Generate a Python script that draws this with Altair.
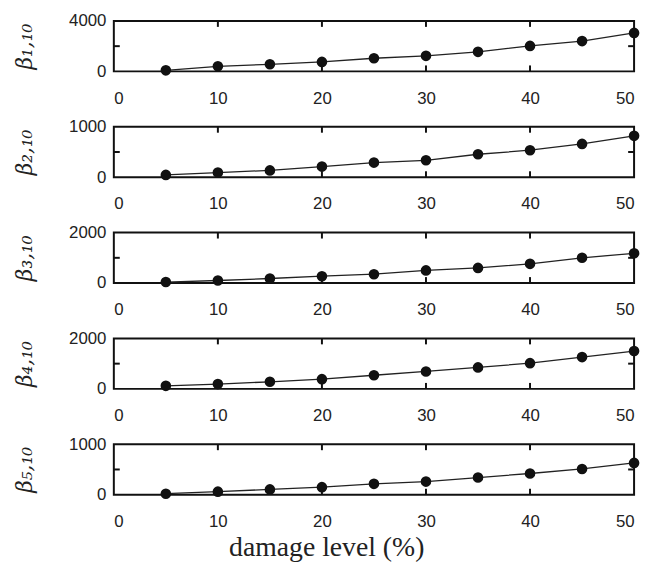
import altair as alt
import pandas as pd

damage = [5, 10, 15, 20, 25, 30, 35, 40, 45, 50]
beta1 = [80, 400, 560, 750, 1040, 1230, 1550, 2020, 2400, 3050]
beta2 = [46, 92, 135, 210, 290, 335, 455, 535, 660, 820]
beta3 = [40, 100, 180, 270, 350, 500, 600, 760, 1000, 1180]
beta4 = [120, 190, 280, 385, 540, 690, 850, 1020, 1260, 1500]
beta5 = [20, 60, 105, 150, 215, 260, 340, 420, 510, 630]
series = [beta1, beta2, beta3, beta4, beta5]
titles = ["β₁,₁₀", "β₂,₁₀", "β₃,₁₀", "β₄,₁₀", "β₅,₁₀"]
ymax = [4000, 1000, 2000, 2000, 1000]
yticks = [[0, 2000, 4000], [0, 500, 1000], [0, 1000, 2000], [0, 1000, 2000], [0, 500, 1000]]
xticks = [0, 10, 20, 30, 40, 50]
inner_xticks = [10, 20, 30, 40]

W = 526
H = 51
TICK = 6

panels = []
for i, vals in enumerate(series):
    df = pd.DataFrame({"damage": damage, "beta": vals})
    xs = alt.X("damage:Q", scale=alt.Scale(domain=[0, 50], nice=False),
               axis=alt.Axis(values=xticks, ticks=False, domain=False, grid=False,
                             labelPadding=19, labelFontSize=17, labelFont="Liberation Sans",
                             labelColor="#222", title=None, format="d"))
    ys = alt.Y("beta:Q", scale=alt.Scale(domain=[0, ymax[i]], nice=False),
               axis=alt.Axis(values=yticks[i], ticks=False, domain=False, grid=False,
                             labelPadding=8, labelFontSize=17, labelFont="Liberation Sans",
                             labelColor="#222", format="d",
                             title=titles[i], titleFont="DejaVu Serif",
                             titleFontStyle="italic", titleFontWeight="normal",
                             titleFontSize=22, titleColor="#222", titlePadding=32))
    base = alt.Chart(df)
    line = base.mark_line(color="#222", strokeWidth=1.3).encode(x=xs, y=ys)
    pts = base.mark_point(filled=True, color="#111", size=115, opacity=1).encode(
        x="damage:Q", y="beta:Q")

    xt = pd.DataFrame({"t": inner_xticks})
    xt_bot = alt.Chart(xt).mark_rule(color="#111", strokeWidth=2).encode(
        x="t:Q", y=alt.value(H), y2=alt.value(H - TICK))
    xt_top = alt.Chart(xt).mark_rule(color="#111", strokeWidth=2).encode(
        x="t:Q", y=alt.value(0), y2=alt.value(TICK))
    yt = pd.DataFrame({"v": [yticks[i][1]]})
    yt_left = alt.Chart(yt).mark_rule(color="#111", strokeWidth=2).encode(
        y="v:Q", x=alt.value(0), x2=alt.value(TICK))
    yt_right = alt.Chart(yt).mark_rule(color="#111", strokeWidth=2).encode(
        y="v:Q", x=alt.value(W - TICK), x2=alt.value(W))

    layer = alt.layer(xt_bot, xt_top, yt_left, yt_right, line, pts).properties(width=W, height=H)
    panels.append(layer)

chart = alt.vconcat(*panels, spacing=10).properties(
    padding={"left": 5, "top": 0, "right": 0, "bottom": 0},
    title=alt.TitleParams("damage level (%)", orient="bottom", font="Liberation Serif",
                          fontSize=28, fontWeight="normal", color="#222", anchor="middle",
                          offset=4)
).configure_view(stroke="#111", strokeWidth=2)

chart.save("out.html", embed_options={"renderer": "svg", "actions": False})
